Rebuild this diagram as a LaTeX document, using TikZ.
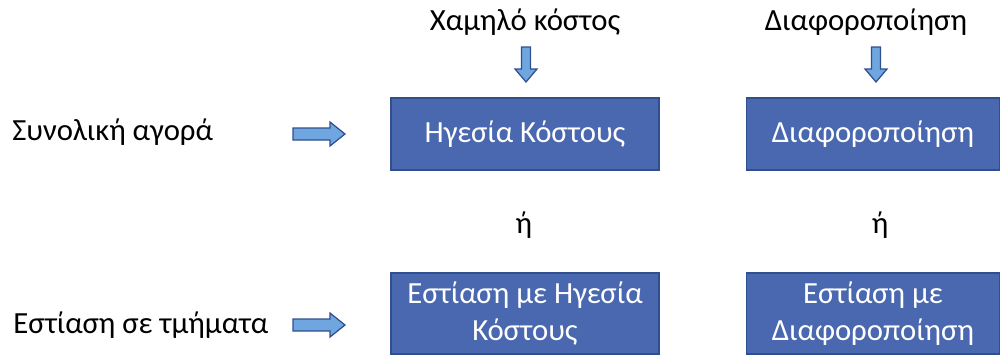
\documentclass[tikz,border=0pt]{standalone}
\usepackage{fontspec}
\setmainfont{Carlito}
\usetikzlibrary{positioning}
\definecolor{bxFill}{HTML}{4A68AF}
\definecolor{bxEdge}{HTML}{2F4F8F}
\definecolor{arFill}{HTML}{6FA6E0}

\begin{document}
\begin{tikzpicture}[x=0.02cm,y=-0.02cm,font=\fontsize{17.5}{21}\selectfont,
          bx/.style={draw=bxEdge,fill=bxFill,text=white,line width=0.8pt,
                     minimum height=1.44cm,align=center,inner sep=0},
          blk/.style={draw=bxEdge,fill=arFill,line width=0.7pt,line join=miter}]
        \useasboundingbox (0,0) rectangle (1004,356);

        % labels
        \node[anchor=west,inner sep=0] (lblMarket) at (12,132) {Συνολική αγορά};
        \node[anchor=west,inner sep=0] (lblFocus) at (13,325) {Εστίαση σε τμήματα};
        \node (lblLow) at (525,22) {Χαμηλό κόστος};
        \node (lblDiff) at (866,22) {Διαφοροποίηση};

        % strategy boxes
        \node[bx,minimum width=5.36cm] (boxCost) at (525,134) {Ηγεσία Κόστους};
        \node[bx,minimum width=5.06cm] (boxDiff) at (873,134) {Διαφοροποίηση};
        \node[bx,minimum width=5.36cm,minimum height=1.62cm] (boxFocCost) at (525,313.5)
          {Εστίαση με Ηγεσία\\Κόστους};
        \node[bx,minimum width=5.06cm,minimum height=1.62cm] (boxFocDiff) at (873,313.5)
          {Εστίαση με\\Διαφοροποίηση};

        \node (orL) at (524,225) {ή};
        \node (orR) at (880,225) {ή};

        % block arrows
        \coordinate (arrMarket) at (293,134);
        \coordinate (arrFocus) at (293,325);
        \coordinate (arrLow) at (526,47);
        \coordinate (arrDiff) at (876,47);
        \foreach \a in {arrMarket,arrFocus}
          \draw[blk] (\a) ++(0,-6) -- ++(37,0) -- ++(0,-6) -- ++(15,12)
            -- ++(-15,12) -- ++(0,-6) -- ++(-37,0) -- cycle;
        \foreach \a in {arrLow,arrDiff}
          \draw[blk] (\a) ++(-4.5,0) -- ++(0,22) -- ++(-6.5,0) -- ++(11,13)
            -- ++(11,-13) -- ++(-6.5,0) -- ++(0,-22) -- cycle;
      \end{tikzpicture}
\end{document}
